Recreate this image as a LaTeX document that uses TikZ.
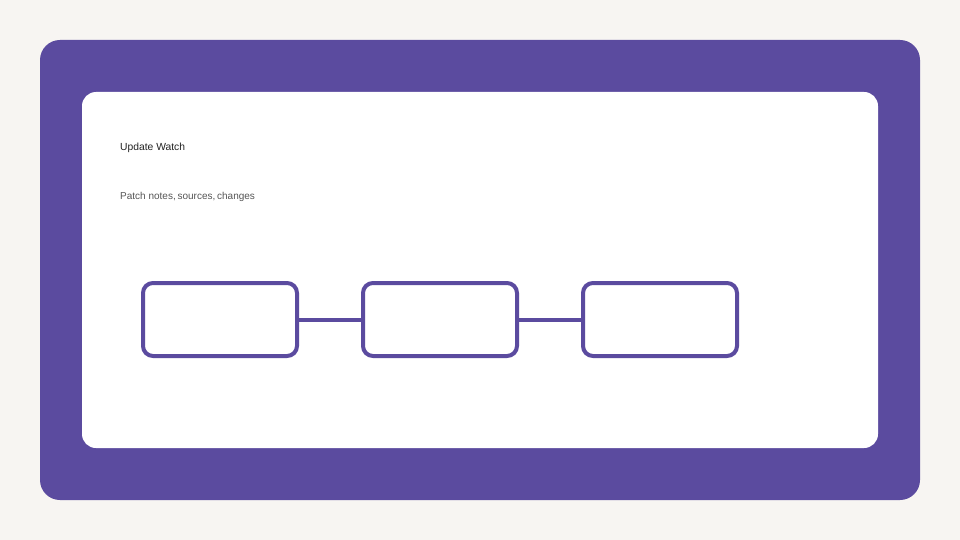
\documentclass[tikz,border=0pt]{standalone}
\usepackage{fontspec}
\setmainfont{Liberation Sans}
\usetikzlibrary{positioning}
\definecolor{paper}{HTML}{F7F5F2}
\definecolor{plum}{HTML}{5B4B9F}
\definecolor{ink}{HTML}{222222}
\definecolor{inkgray}{HTML}{555555}
\tikzset{
    stagebox/.style={draw=plum, line width=4pt, rounded corners=10pt, fill=white,
        minimum width=154pt, minimum height=73pt, inner sep=0pt},
    stagelink/.style={draw=plum, line width=4pt}
}
\begin{document}
\begin{tikzpicture}[x=1pt, y=-1pt]
    \fill [paper] (0,0) rectangle (960,540);
    \fill [plum, rounded corners=20pt] (40,40) rectangle (920,500);
    \fill [white, rounded corners=14pt] (82,92) rectangle (878,448);
    \node [anchor=west, text=ink, font=\fontsize{10.3pt}{12pt}\selectfont, inner sep=0pt] (title) at (120,147.5) {Update Watch};
    \node [anchor=west, text=inkgray, font=\fontsize{10pt}{12pt}\selectfont, inner sep=0pt] (subtitle) at (120,197) {Patch notes,\hspace{-1pt} sources,\hspace{-1pt} changes};
    \node [stagebox] (notes) at (220,319.5) {};
    \node [stagebox, right=62pt of notes] (sources) {};
    \node [stagebox, right=62pt of sources] (changes) {};
    \draw [stagelink] (notes) -- (sources);
    \draw [stagelink] (sources) -- (changes);
\end{tikzpicture}
\end{document}
